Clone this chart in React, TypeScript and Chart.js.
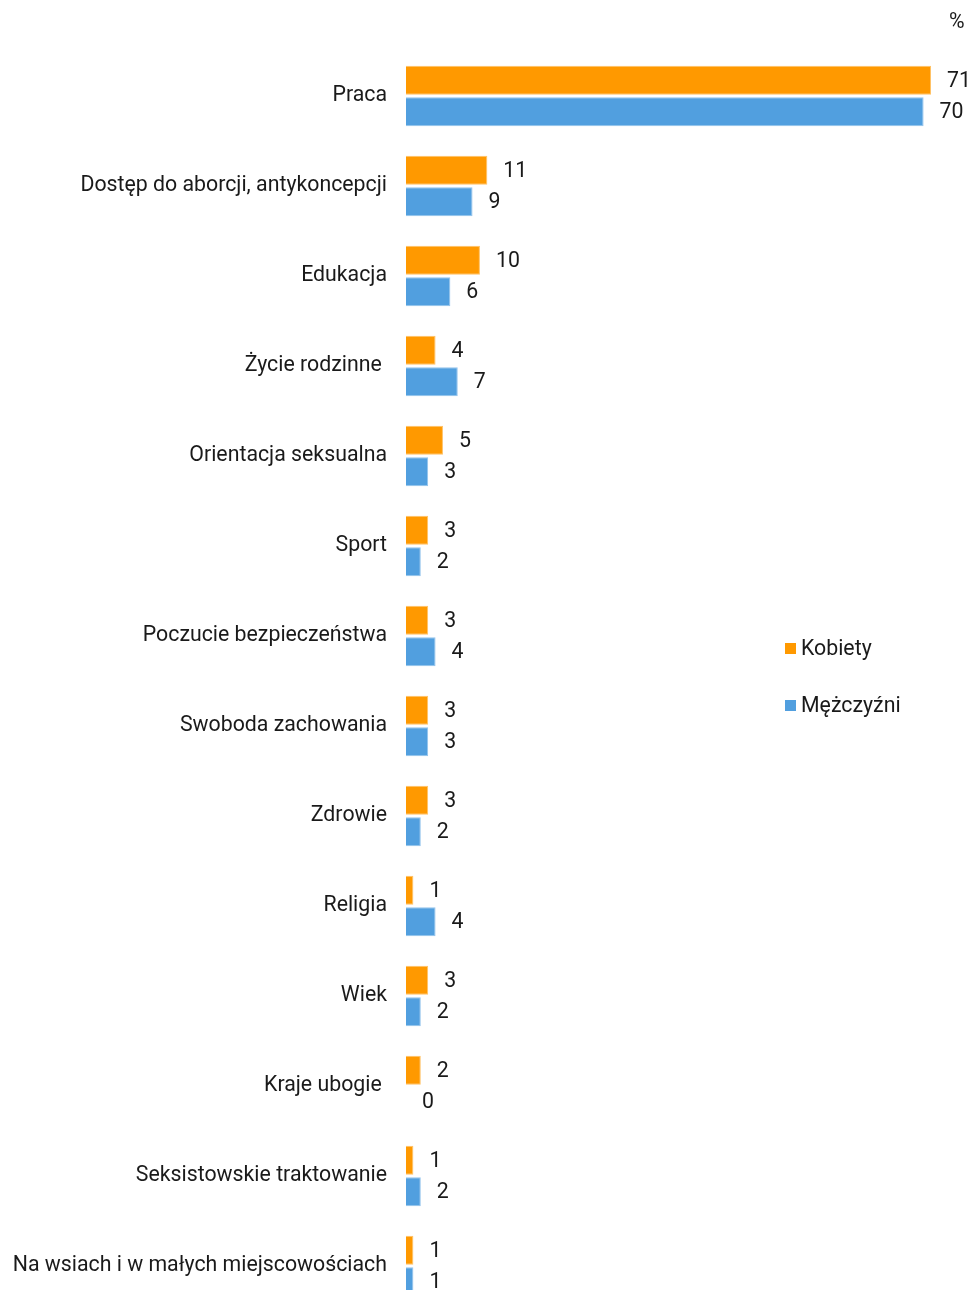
import React, { useEffect, useRef } from "react";
import { Chart, registerables } from "chart.js";

Chart.register(...registerables);

const categories: string[] = [
  "Praca",
  "Dostęp do aborcji, antykoncepcji",
  "Edukacja",
  "Życie rodzinne ",
  "Orientacja seksualna",
  "Sport",
  "Poczucie bezpieczeństwa",
  "Swoboda zachowania",
  "Zdrowie",
  "Religia",
  "Wiek",
  "Kraje ubogie ",
  "Seksistowskie traktowanie",
  "Na wsiach i w małych miejscowościach",
];

const kobiety: number[] = [71, 11, 10, 4, 5, 3, 3, 3, 3, 1, 3, 2, 1, 1];
const mezczyzni: number[] = [70, 9, 6, 7, 3, 2, 4, 3, 2, 4, 2, 0, 2, 1];

const seriesNames: string[] = ["Kobiety", "Mężczyźni"];
const unitLabel = "%";

const ORANGE = "#FF9900";
const BLUE = "#519FDF";
const FONT = "Roboto";
const FS = 21.3;
const TEXT = "#1a1a1a";

const valueLabels = {
  id: "valueLabels",
  afterDatasetsDraw(chart: any) {
    const ctx = chart.ctx;
    ctx.save();
    ctx.font = `${FS}px ${FONT}`;
    ctx.fillStyle = TEXT;
    ctx.textAlign = "left";
    ctx.textBaseline = "middle";
    chart.data.datasets.forEach((ds: any, i: number) => {
      const meta = chart.getDatasetMeta(i);
      meta.data.forEach((bar: any, j: number) => {
        ctx.fillText(String(ds.data[j]), bar.x + 16, bar.y + 1);
      });
    });
    ctx.restore();
  },
};

const extras = {
  id: "extras",
  afterDraw(chart: any) {
    const ctx = chart.ctx;
    ctx.save();
    ctx.font = `${FS}px ${FONT}`;
    ctx.fillStyle = TEXT;
    ctx.textBaseline = "middle";
    ctx.textAlign = "left";
    ctx.fillText(unitLabel, 949, 23);
    const colors = [ORANGE, BLUE];
    const ys = [649, 706];
    seriesNames.forEach((name, i) => {
      ctx.fillStyle = colors[i];
      ctx.fillRect(785, ys[i] - 6, 11, 11);
      ctx.fillStyle = TEXT;
      ctx.fillText(name, 801, ys[i] + 1);
    });
    ctx.restore();
  },
};

export default function App() {
  const ref = useRef<HTMLCanvasElement | null>(null);
  useEffect(() => {
    if (!ref.current) return;
    const chart = new Chart(ref.current, {
      type: "bar",
      data: {
        labels: categories,
        datasets: [
          {
            label: seriesNames[0],
            data: kobiety,
            backgroundColor: ORANGE,
            borderColor: "#FFC266",
            borderWidth: 1,
            categoryPercentage: 0.7,
            barPercentage: 0.92,
          },
          {
            label: seriesNames[1],
            data: mezczyzni,
            backgroundColor: BLUE,
            borderColor: "#93C3EC",
            borderWidth: 1,
            categoryPercentage: 0.7,
            barPercentage: 0.92,
          },
        ],
      },
      options: {
        indexAxis: "y",
        animation: false,
        responsive: false,
        maintainAspectRatio: false,
        devicePixelRatio: 1,
        layout: { padding: { top: 51, right: 39, bottom: 40, left: 0 } },
        plugins: {
          legend: { display: false },
          tooltip: { enabled: false },
        },
        scales: {
          x: {
            display: false,
            min: 0,
            max: 71,
          },
          y: {
            grid: { display: false, drawTicks: false },
            border: { display: false },
            ticks: {
              padding: 19,
              color: TEXT,
              font: { family: FONT, size: FS },
            },
            afterFit(scale: any) {
              scale.width = 406;
            },
          },
        },
      },
      plugins: [valueLabels, extras],
    } as any);
    return () => chart.destroy();
  }, []);
  return (
    <div style={{ position: "fixed", left: 0, top: 0, width: 970, height: 1351, background: "#fff" }}>
      <canvas ref={ref} width={970} height={1351} style={{ display: "block" }} />
    </div>
  );
}
